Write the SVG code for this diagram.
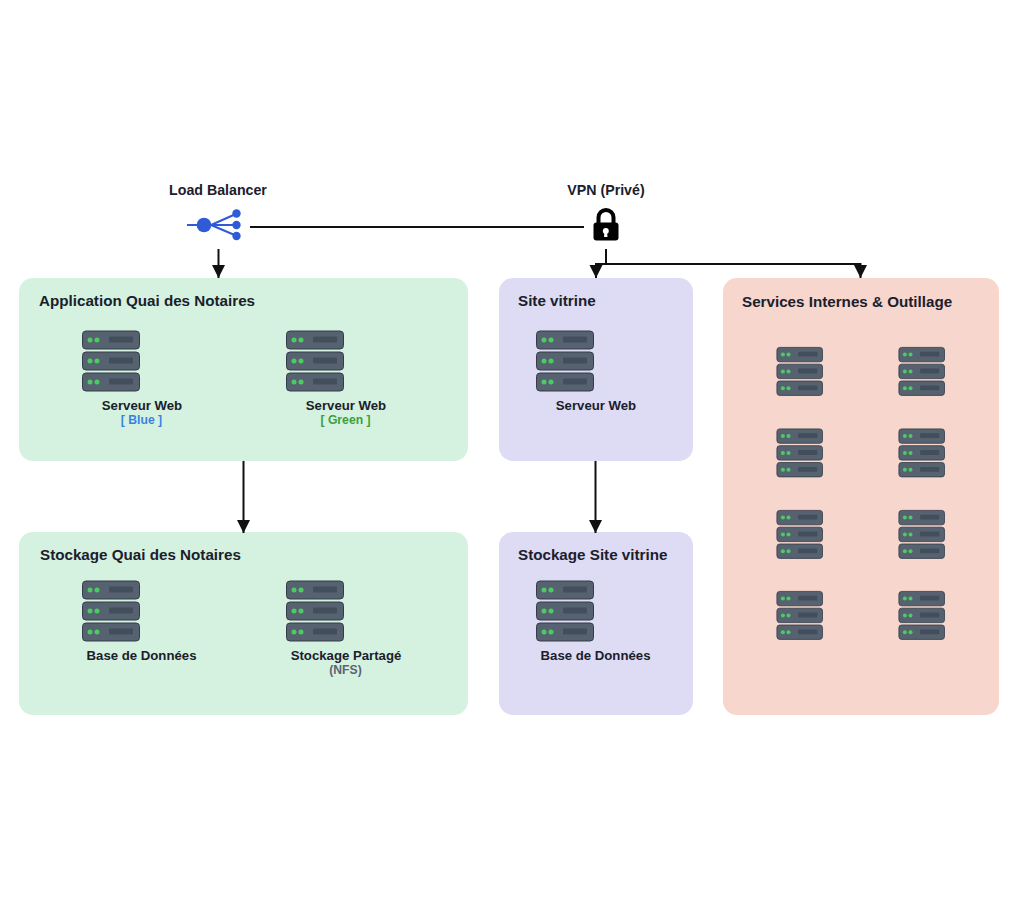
<svg xmlns="http://www.w3.org/2000/svg" xmlns:xlink="http://www.w3.org/1999/xlink" width="1016" height="900" viewBox="0 0 1016 900">
<style>
text{font-family:"Liberation Sans",Arial,sans-serif;text-anchor:middle}
.t{font-size:15.2px;font-weight:700;fill:#1a202c;text-anchor:start}
.l{font-size:13.2px;font-weight:700;fill:#1a202c}
.h{font-size:14.2px;font-weight:700;fill:#1a202c}
.s{font-size:12.2px;font-weight:700}
.c{fill:none;stroke:#111;stroke-width:2}
.g{fill:#d5f2e0}.p{fill:#dedcf4}.r{fill:#f7d6cd}
</style>
<defs>
<marker id="a" markerUnits="userSpaceOnUse" markerWidth="14" markerHeight="14" refX="13" refY="6.500" orient="auto"><path d="M0 0L13 6.500L0 13Z" fill="#111"/></marker>
<g id="u"><rect x=".5" y=".5" width="57" height="18" rx="3.500" fill="#56626f" stroke="#333c49"/><circle cx="8" cy="9.500" r="2.500" fill="#4ccb62"/><circle cx="15" cy="9.500" r="2.500" fill="#4ccb62"/><rect x="27" y="6" width="24" height="6" rx="1" fill="#434e5c"/></g>
<g id="srv"><use xlink:href="#u"/><use xlink:href="#u" y="21"/><use xlink:href="#u" y="42"/></g>
</defs>
<rect width="1016" height="900" fill="#fff"/>
<g id="groups">
<rect id="app" class="g" x="19" y="278" width="449" height="183" rx="14"/>
<rect id="stock" class="g" x="19" y="532" width="449" height="183" rx="14"/>
<rect id="site" class="p" x="499" y="278" width="194" height="183" rx="14"/>
<rect id="stock2" class="p" x="499" y="532" width="194" height="183" rx="14"/>
<rect id="internes" class="r" x="723" y="278" width="276" height="437" rx="14"/>
<text class="t" x="39" y="306">Application Quai des Notaires</text>
<text class="t" x="40" y="560">Stockage Quai des Notaires</text>
<text class="t" x="518" y="306">Site vitrine</text>
<text class="t" x="518" y="560">Stockage Site vitrine</text>
<text class="t" x="742" y="307">Services Internes &amp; Outillage</text>
</g>
<g id="connectors">
<path class="c" d="M250 227H584"/>
<path class="c" marker-end="url(#a)" d="M218.500 249V278"/>
<path class="c" marker-end="url(#a)" d="M606 249V264H596V278"/>
<path class="c" marker-end="url(#a)" d="M606 264H860.500V278"/>
<path class="c" marker-end="url(#a)" d="M243.500 461V533"/>
<path class="c" marker-end="url(#a)" d="M595.500 461V533"/>
</g>
<g id="lb">
<text class="h" x="218" y="195">Load Balancer</text>
<path d="M187 225H237M211 225L237 213.500M211 225L237 236" fill="none" stroke="#2f5bd7" stroke-width="2"/>
<circle cx="204" cy="225" r="7.300" fill="#2f5bd7"/><circle cx="236.500" cy="213.500" r="4.200" fill="#2f5bd7"/><circle cx="236.500" cy="225" r="4.200" fill="#2f5bd7"/><circle cx="236.500" cy="236" r="4.200" fill="#2f5bd7"/>
</g>
<g id="vpn">
<text class="h" x="606" y="195">VPN (Privé)</text>
<path d="M598.500 225V217.500a7.500 7.500 0 0 1 15 0V225" fill="none" stroke="#000" stroke-width="4"/>
<rect x="593.500" y="222.500" width="25" height="18" rx="3" fill="#000"/>
<circle cx="605.800" cy="231" r="3" fill="#fff"/><path d="M604.500 232H607L607.500 237H604Z" fill="#fff"/>
</g>
<g id="web-blue"><use xlink:href="#srv" x="82" y="330.500"/><text class="l" x="142" y="410">Serveur Web</text><text class="s" x="141.500" y="424" fill="#3b82e0">[ Blue ]</text></g>
<g id="web-green"><use xlink:href="#srv" x="286" y="330.500"/><text class="l" x="346" y="410">Serveur Web</text><text class="s" x="345.500" y="424" fill="#3f9e3a">[ Green ]</text></g>
<g id="web-site"><use xlink:href="#srv" x="536" y="330.500"/><text class="l" x="596" y="410">Serveur Web</text></g>
<g id="db"><use xlink:href="#srv" x="82" y="580.500"/><text class="l" x="141.500" y="660">Base de Données</text></g>
<g id="nfs"><use xlink:href="#srv" x="286" y="580.500"/><text class="l" x="346" y="660">Stockage Partagé</text><text class="s" x="345.500" y="674" fill="#5a6472">(NFS)</text></g>
<g id="db-site"><use xlink:href="#srv" x="536" y="580.500"/><text class="l" x="595.500" y="660">Base de Données</text></g>
<g id="internal">
<use xlink:href="#srv" transform="translate(776.500 347) scale(.8)"/><use xlink:href="#srv" transform="translate(898.500 347) scale(.8)"/>
<use xlink:href="#srv" transform="translate(776.500 428.500) scale(.8)"/><use xlink:href="#srv" transform="translate(898.500 428.500) scale(.8)"/>
<use xlink:href="#srv" transform="translate(776.500 510) scale(.8)"/><use xlink:href="#srv" transform="translate(898.500 510) scale(.8)"/>
<use xlink:href="#srv" transform="translate(776.500 591) scale(.8)"/><use xlink:href="#srv" transform="translate(898.500 591) scale(.8)"/>
</g>
</svg>
